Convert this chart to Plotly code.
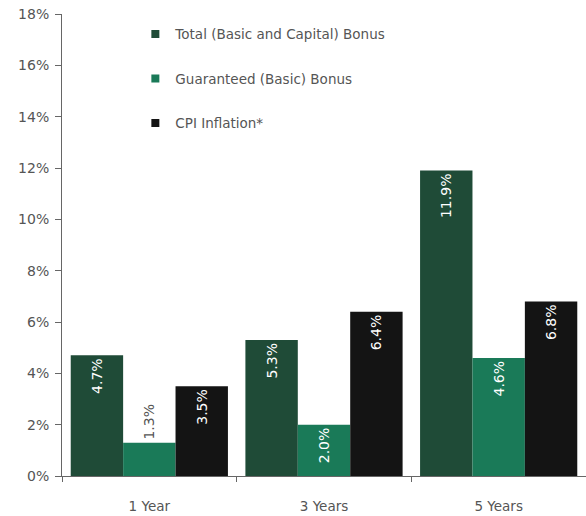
import plotly.graph_objects as go

categories = ["1 Year", "3 Years", "5 Years"]
total_bonus = [4.7, 5.3, 11.9]
guaranteed_bonus = [1.3, 2.0, 4.6]
cpi_inflation = [3.5, 6.4, 6.8]
series_names = ["Total (Basic and Capital) Bonus", "Guaranteed (Basic) Bonus", "CPI Inflation*"]
colors = ["#1f4b37", "#1a7a58", "#141414"]
tick_vals = [0, 2, 4, 6, 8, 10, 12, 14, 16, 18]
tick_text = [f"{v}%" for v in tick_vals]

fig = go.Figure()
for i, (name, vals, col) in enumerate(zip(series_names, [total_bonus, guaranteed_bonus, cpi_inflation], colors)):
    positions = ["inside" if v >= 2.0 else "outside" for v in vals]
    fig.add_trace(go.Bar(
        x=categories, y=vals, name=name, marker=dict(color=col, line=dict(width=0)),
        text=[f"{v:.1f}%" for v in vals], textposition=positions, textangle=-90,
        insidetextanchor="end", insidetextfont=dict(color="white", size=14, family="DejaVu Sans"),
        outsidetextfont=dict(color="#555555", size=14, family="DejaVu Sans"),
        cliponaxis=False, showlegend=False,
    ))
for i, (name, col) in enumerate(zip(series_names, colors)):
    fig.add_trace(go.Scatter(
        x=[None], y=[None], mode="markers", name=name,
        marker=dict(symbol="square", size=8, color=col), legendgroup=f"g{i}",
    ))

fig.update_layout(
    width=586, height=516, barmode="group", bargap=0.1, bargroupgap=0,
    margin=dict(l=62, r=0, t=14, b=40, autoexpand=False),
    paper_bgcolor="white", plot_bgcolor="white",
    font=dict(family="DejaVu Sans", color="#555555", size=13),
    legend=dict(x=0.14, y=0.99, xanchor="left", yanchor="top", bgcolor="rgba(0,0,0,0)",
                font=dict(size=13.5, color="#555555"), tracegroupgap=24, itemwidth=30),
    showlegend=True,
)
fig.update_yaxes(range=[0, 18], tickvals=tick_vals, ticktext=tick_text, showgrid=False,
                 showline=True, linecolor="#666666", linewidth=1, ticks="outside", ticklen=6,
                 tickcolor="#666666", zeroline=False, ticklabelstandoff=3, automargin=False,
                 tickfont=dict(size=14))
fig.update_xaxes(showgrid=False, showline=True, linecolor="#666666", linewidth=1,
                 ticks="outside", tickson="boundaries", ticklen=5, tickcolor="#666666",
                 ticklabelstandoff=18, automargin=False, tickfont=dict(size=13.5))
fig.write_html("out.html", config={"displayModeBar": False},
               post_script="document.body.style.margin='0';document.body.style.overflow='hidden';")
